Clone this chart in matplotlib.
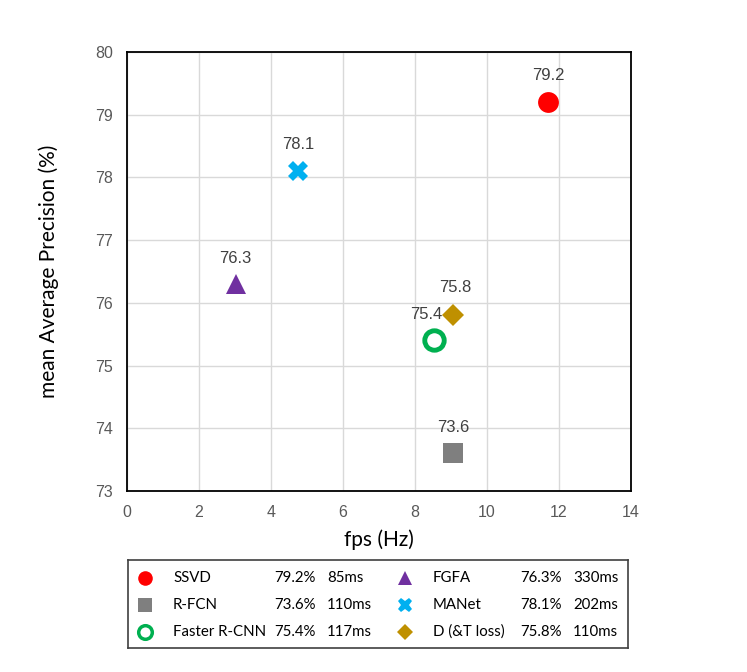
import matplotlib
matplotlib.use("Agg")
import matplotlib.pyplot as plt

# datos
metodos = ["SSVD", "R-FCN", "Faster R-CNN", "FGFA", "MANet", "D (&T loss)"]
fps = [11.7, 9.05, 8.53, 3.02, 4.75, 9.05]
mAP = [79.2, 73.6, 75.4, 76.3, 78.1, 75.8]
tiempos = ["85ms", "110ms", "117ms", "330ms", "202ms", "110ms"]

# estilo de cada marcador
marcadores = ["o", "s", "o", "^", "X", "D"]
colores = ["#ff0000", "#7f7f7f", "#00b050", "#7030a0", "#00b0f0", "#bf9000"]
rellenos = ["#ff0000", "#7f7f7f", "white", "#7030a0", "#00b0f0", "#bf9000"]
tamanos = [15, 14, 14, 15, 15, 11]
# desplazamiento de la etiqueta (px)
offs = [(0, 27), (0, 26), (-8, 26), (0, 26), (0, 27), (2, 28)]

fig = plt.figure(figsize=(7.47, 6.72), dpi=100)
ax = fig.add_axes([127/747, 1-491/672, 504/747, 439/672])

for i in range(len(metodos)):
    ax.plot(fps[i], mAP[i], marker=marcadores[i], ms=tamanos[i],
            mfc=rellenos[i], mec=colores[i], mew=3.5 if rellenos[i] == "white" else 0,
            ls="none", zorder=3)
    ax.annotate(f"{mAP[i]:.1f}", (fps[i], mAP[i]), xytext=offs[i],
                textcoords="offset pixels", ha="center", va="center",
                fontsize=12, color="#404040", family="Liberation Sans", zorder=4)

ax.set_xlim(0, 14)
ax.set_ylim(73, 80)
ax.set_xticks(range(0, 15, 2))
ax.set_yticks(range(73, 81))
ax.grid(True, color="#d9d9d9", lw=1)
ax.set_axisbelow(True)
for s in ax.spines.values():
    s.set_color("black")
    s.set_linewidth(1.3)
ax.tick_params(length=0, pad=10, labelsize=11.5, labelcolor="#595959")
for t in ax.get_xticklabels() + ax.get_yticklabels():
    t.set_family("Liberation Sans")
ax.set_xlabel("fps (Hz)", fontsize=15, family="Lato", labelpad=7)
ax.set_ylabel("mean Average Precision (%)", fontsize=15, family="Lato", labelpad=26)

# leyenda tipo tabla
lg = fig.add_axes([128/747, 1-648/672, 500/747, 88/672])
lg.set_xlim(0, 500)
lg.set_ylim(88, 0)
lg.set_xticks([])
lg.set_yticks([])
for s in lg.spines.values():
    s.set_color("#404040")
    s.set_linewidth(1.2)
cols = [(17, 45, 146, 199), (277, 305, 392, 445)]
for i in range(len(metodos)):
    c = cols[i // 3]
    y = 18 + 27 * (i % 3)
    lg.plot(c[0], y, marker=marcadores[i], ms=tamanos[i]*0.7,
            mfc=rellenos[i], mec=colores[i], mew=2.5 if rellenos[i] == "white" else 0,
            ls="none")
    for x, txt in zip(c[1:], [metodos[i], f"{mAP[i]:.1f}%", tiempos[i]]):
        lg.text(x, y, txt, va="center", ha="left", fontsize=10.8, family="Lato", color="black")

fig.savefig("out.png", dpi=100)
